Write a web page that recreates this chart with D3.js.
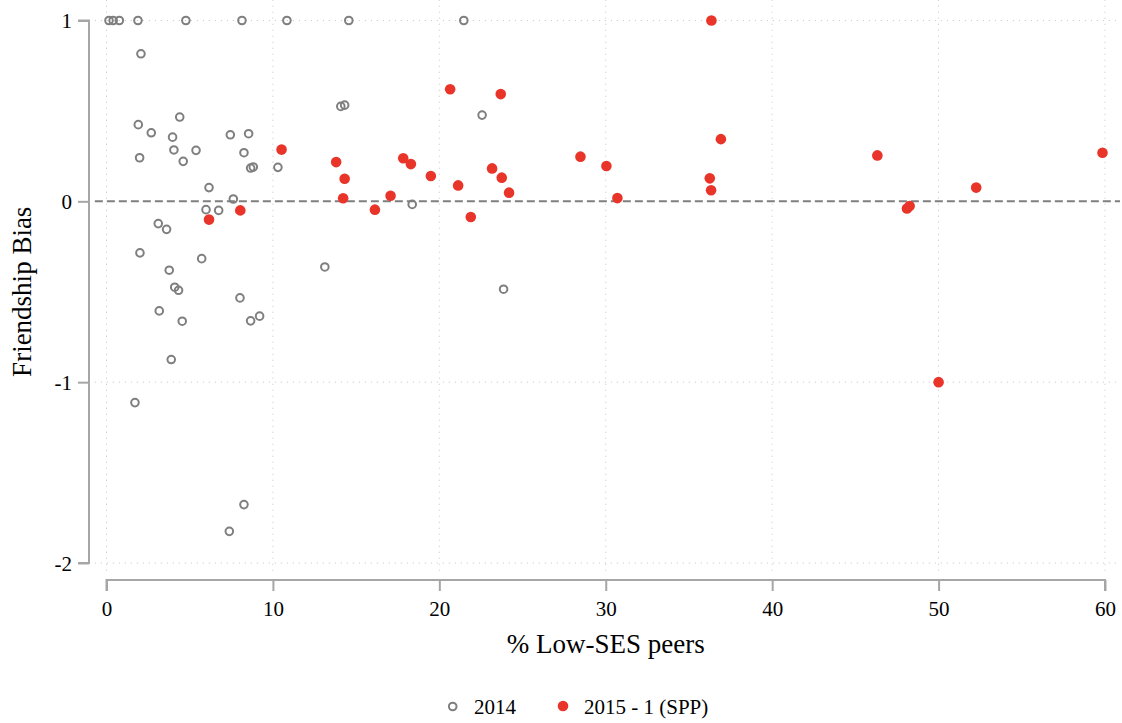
<!DOCTYPE html>
<html>
<head>
<meta charset="utf-8">
<script src="https://cdn.jsdelivr.net/npm/d3@7"></script>
<style>
  html, body { margin: 0; padding: 0; background: #fff; }
  svg { display: block; }
  text { font-family: "Liberation Serif", "DejaVu Serif", serif; fill: #000; }
</style>
</head>
<body>
<svg id="chart" width="1122" height="723"></svg>
<script>
// ---- data ----
const x2014 = [0.15, 0.4, 0.77, 1.89, 4.77, 8.14, 10.84, 14.56, 21.47,
  2.07, 4.40, 1.91, 2.69, 3.97, 7.44, 8.54, 4.05, 5.38, 1.99, 8.26, 4.61, 8.66, 8.82, 10.30,
  6.16, 7.62, 5.98, 6.74, 3.11, 3.61, 2.01, 5.72, 3.77, 4.10, 4.33, 8.02, 3.17, 9.20, 8.66,
  4.55, 3.89, 1.71, 8.26, 7.38, 14.08, 14.31, 22.57, 18.37, 13.12, 23.86];
const y2014 = [1, 1, 1, 1, 1, 1, 1, 1, 1,
  0.816, 0.466, 0.424, 0.379, 0.355, 0.368, 0.374, 0.284, 0.282, 0.241, 0.269, 0.221, 0.184, 0.190, 0.188,
  0.076, 0.013, -0.046, -0.050, -0.123, -0.155, -0.285, -0.317, -0.381, -0.475, -0.492, -0.534, -0.606, -0.635, -0.661,
  -0.663, -0.875, -1.113, -1.677, -1.825, 0.525, 0.532, 0.477, -0.017, -0.363, -0.486];
const x2015 = [10.52, 8.04, 6.16, 20.65, 23.69, 13.80, 17.83, 18.29, 14.31, 23.17, 19.49, 23.75,
  21.13, 24.19, 14.22, 17.07, 16.13, 21.89, 36.35, 36.92, 28.48, 30.04, 30.70, 36.25, 36.33,
  46.32, 48.10, 48.26, 52.26, 59.85, 50.0];
const y2015 = [0.286, -0.050, -0.101, 0.620, 0.593, 0.217, 0.238, 0.206, 0.125, 0.182, 0.140, 0.131,
  0.088, 0.048, 0.017, 0.031, -0.046, -0.087, 1.0, 0.344, 0.247, 0.195, 0.018, 0.127, 0.061,
  0.254, -0.040, -0.026, 0.076, 0.269, -1.0];
const xTicks = [0, 10, 20, 30, 40, 50, 60];
const yTicks = [-2, -1, 0, 1];
const seriesNames = ["2014", "2015 - 1 (SPP)"];
const xTitle = "% Low-SES peers";
const yTitle = "Friendship Bias";

// ---- layout ----
const svg = d3.select("#chart");
const x = d3.scaleLinear().domain([0, 60]).range([106.5, 1105]);
const y = d3.scaleLinear().domain([-2, 1]).range([563, 20.5]);
const gray = "#7f7f7f";
const red = "#e9342a";
const axisCol = "#a6a6a6";

// grid
const grid = svg.append("g");
grid.selectAll("line.vg").data(xTicks).join("line")
  .attr("x1", d => x(d)).attr("x2", d => x(d))
  .attr("y1", y(1.115)).attr("y2", y(-2.06))
  .attr("stroke", "#c4c4c4").attr("stroke-width", 1).attr("stroke-dasharray", "1,5");
grid.selectAll("line.hg").data(yTicks.filter(d => d !== 0)).join("line")
  .attr("x1", x(-0.7)).attr("x2", x(60.9))
  .attr("y1", d => y(d)).attr("y2", d => y(d))
  .attr("stroke", "#c4c4c4").attr("stroke-width", 1).attr("stroke-dasharray", "1,5");

// zero reference line
svg.append("line")
  .attr("x1", x(-0.7)).attr("x2", x(60.9))
  .attr("y1", y(0)).attr("y2", y(0))
  .attr("stroke", gray).attr("stroke-width", 2).attr("stroke-dasharray", "8,4");

// y axis
const yAxis = d3.axisLeft(y).tickValues(yTicks).tickSize(11).tickPadding(6)
  .tickFormat(d => String(d).replace("\u2212", "-"));
const gy = svg.append("g").attr("transform", "translate(89,0)").call(yAxis);
gy.select(".domain").attr("stroke", axisCol).attr("stroke-width", 2).attr("d", `M-11,${y(1)}H0V${y(-2)}H-11`);
gy.selectAll(".tick line").attr("stroke", axisCol).attr("stroke-width", 2);
gy.selectAll(".tick text").attr("font-size", 21).attr("font-family", "Liberation Serif").attr("fill", "#000")
  .attr("dy", "0.34em");

// x axis
const xAxis = d3.axisBottom(x).tickValues(xTicks).tickSize(11).tickPadding(10);
const gx = svg.append("g").attr("transform", "translate(0,580)").call(xAxis);
gx.select(".domain").attr("stroke", axisCol).attr("stroke-width", 2).attr("d", `M${x(0)},11V0H${x(60)}V11`);
gx.selectAll(".tick line").attr("stroke", axisCol).attr("stroke-width", 2);
gx.selectAll(".tick text").attr("font-size", 21).attr("font-family", "Liberation Serif").attr("fill", "#000");

// titles
svg.append("text").attr("x", x(30)).attr("y", 653).attr("text-anchor", "middle")
  .attr("font-size", 27).text(xTitle);
svg.append("text").attr("transform", `translate(31,${(y(1) + y(-2)) / 2}) rotate(-90)`)
  .attr("text-anchor", "middle").attr("font-size", 27).text(yTitle);

// points
const d2014 = x2014.map((v, i) => ({ x: v, y: y2014[i] }));
const d2015 = x2015.map((v, i) => ({ x: v, y: y2015[i] }));
svg.append("g").selectAll("circle").data(d2014).join("circle")
  .attr("cx", d => x(d.x)).attr("cy", d => y(d.y)).attr("r", 3.8)
  .attr("fill", "none").attr("stroke", gray).attr("stroke-width", 2);
svg.append("g").selectAll("circle").data(d2015).join("circle")
  .attr("cx", d => x(d.x)).attr("cy", d => y(d.y)).attr("r", 5.3)
  .attr("fill", red);

// legend
const leg = svg.append("g");
leg.append("circle").attr("cx", 452.7).attr("cy", 706.5).attr("r", 3.8)
  .attr("fill", "none").attr("stroke", gray).attr("stroke-width", 2);
leg.append("text").attr("x", 474).attr("y", 714).attr("font-size", 21).text(seriesNames[0]);
leg.append("circle").attr("cx", 563).attr("cy", 706).attr("r", 5.3).attr("fill", red);
leg.append("text").attr("x", 584).attr("y", 714).attr("font-size", 21).text(seriesNames[1]);
</script>
</body>
</html>
